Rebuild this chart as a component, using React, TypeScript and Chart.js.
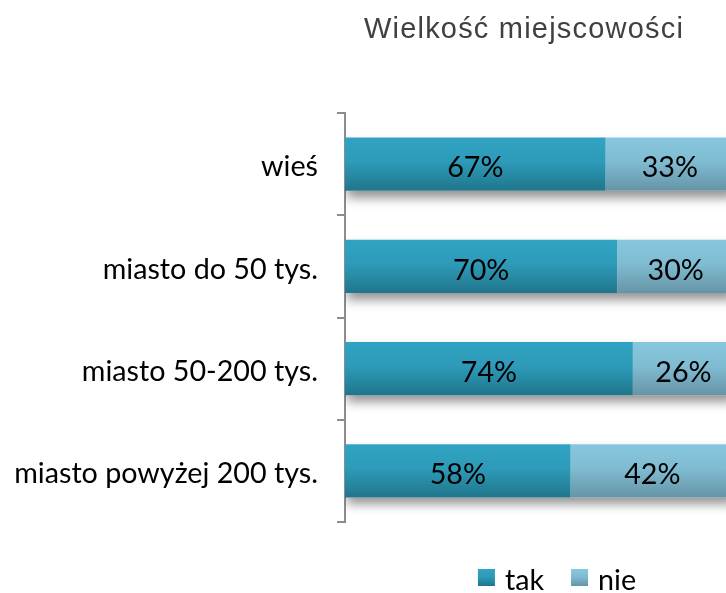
import React, { useEffect, useRef } from "react";
import { Chart, registerables } from "chart.js";

Chart.register(...registerables);

const categories = ["wieś", "miasto do 50 tys.", "miasto 50-200 tys.", "miasto powyżej 200 tys."];
const takValues = [67, 70, 74, 58];
const nieValues = [33, 30, 26, 42];
const seriesNames = ["tak", "nie"];
const chartTitle = "Wielkość miejscowości";

const LABEL_FONT = "Lato, 'Noto Sans', sans-serif";
const TITLE_FONT = "'Liberation Sans', Arial, sans-serif";
const LABEL_SIZE = 28.7;

const gradientStops: [number, string][][] = [
  [
    [0, "#31a3c2"],
    [0.45, "#2d9bb9"],
    [1, "#20768b"],
  ],
  [
    [0, "#87c7de"],
    [0.45, "#80bcd2"],
    [1, "#6694a6"],
  ],
];
const solidColors = ["#2a92ad", "#7ab3c8"];

function makeGradient(ctx: CanvasRenderingContext2D, top: number, bottom: number, idx: number) {
  const g = ctx.createLinearGradient(0, top, 0, bottom);
  gradientStops[idx].forEach(([o, c]) => g.addColorStop(o, c));
  return g;
}

const barStylePlugin = {
  id: "barStyle",
  beforeDatasetsDraw(chart: any) {
    const ctx = chart.ctx as CanvasRenderingContext2D;
    const metas = chart.data.datasets.map((_: any, i: number) => chart.getDatasetMeta(i));
    // per-bar vertical gradients
    metas.forEach((meta: any, di: number) => {
      meta.data.forEach((el: any) => {
        const { y, height } = el.getProps(["y", "height"], true);
        el.options = Object.assign({}, el.options, {
          backgroundColor: makeGradient(ctx, y - height / 2, y + height / 2, di),
        });
      });
    });
    // soft shadow under each full stacked bar
    const n = chart.data.labels.length;
    for (let i = 0; i < n; i++) {
      let left = Infinity;
      let right = -Infinity;
      let y = 0;
      let h = 0;
      metas.forEach((meta: any) => {
        const el = meta.data[i];
        const p = el.getProps(["x", "y", "base", "height"], true);
        left = Math.min(left, p.base, p.x);
        right = Math.max(right, p.base, p.x);
        y = p.y;
        h = p.height;
      });
      ctx.save();
      ctx.beginPath();
      ctx.rect(
        chart.chartArea.left,
        chart.chartArea.top,
        chart.chartArea.right - chart.chartArea.left,
        chart.chartArea.bottom - chart.chartArea.top + 40
      );
      ctx.clip();
      ctx.shadowColor = "rgba(0,0,0,0.42)";
      ctx.shadowBlur = 10;
      ctx.shadowOffsetY = 7;
      ctx.fillStyle = "#ffffff";
      ctx.fillRect(left + 2, y - h / 2, right - left - 2, h);
      ctx.restore();
    }
  },
  afterDatasetsDraw(chart: any) {
    const ctx = chart.ctx as CanvasRenderingContext2D;
    ctx.save();
    ctx.font = `${LABEL_SIZE}px ${LABEL_FONT}`;
    ctx.fillStyle = "#000000";
    ctx.textAlign = "center";
    ctx.textBaseline = "middle";
    chart.data.datasets.forEach((ds: any, di: number) => {
      const meta = chart.getDatasetMeta(di);
      meta.data.forEach((el: any, i: number) => {
        const p = el.getProps(["x", "y", "base"], true);
        ctx.fillText(`${ds.data[i]}%`, (p.x + p.base) / 2, p.y + 4);
      });
    });
    ctx.restore();
  },
  afterDraw(chart: any) {
    const ctx = chart.ctx as CanvasRenderingContext2D;
    const area = chart.chartArea;
    // title
    ctx.save();
    ctx.font = `29px ${TITLE_FONT}`;
    (ctx as any).letterSpacing = "1.2px";
    ctx.fillStyle = "#404040";
    ctx.textAlign = "center";
    ctx.textBaseline = "alphabetic";
    ctx.fillText(chartTitle, area.left + 179, 38);
    ctx.restore();
    // legend
    ctx.save();
    ctx.font = `${LABEL_SIZE}px ${LABEL_FONT}`;
    const box = 17;
    const gap = 10;
    const spacing = 27;
    const widths = seriesNames.map((s) => box + gap + ctx.measureText(s).width);
    const total = widths.reduce((a, b) => a + b, 0) + spacing * (seriesNames.length - 1);
    const cx = area.left + 212;
    const cy = 577.5;
    let x = cx - total / 2;
    seriesNames.forEach((s, i) => {
      ctx.fillStyle = makeGradient(ctx, cy - box / 2, cy + box / 2, i);
      ctx.fillRect(x, cy - box / 2, box, box);
      ctx.fillStyle = "#000000";
      ctx.textAlign = "left";
      ctx.textBaseline = "middle";
      ctx.fillText(s, x + box + gap, cy + 3);
      x += widths[i] + spacing;
    });
    ctx.restore();
  },
};

export default function App() {
  const ref = useRef<HTMLCanvasElement | null>(null);
  useEffect(() => {
    if (!ref.current) return;
    const chart = new Chart(ref.current, {
      type: "bar",
      data: {
        labels: categories,
        datasets: [
          {
            label: seriesNames[0],
            data: takValues,
            backgroundColor: () => solidColors[0],
            barPercentage: 0.52,
            categoryPercentage: 1,
          },
          {
            label: seriesNames[1],
            data: nieValues,
            backgroundColor: () => solidColors[1],
            barPercentage: 0.52,
            categoryPercentage: 1,
          },
        ],
      },
      options: {
        indexAxis: "y",
        responsive: false,
        animation: false,
        devicePixelRatio: 1,
        layout: { padding: { top: 113, bottom: 71, left: 0, right: 26 } },
        plugins: {
          legend: { display: false },
          title: { display: false },
          tooltip: { enabled: false },
        },
        scales: {
          x: { display: false, stacked: true, min: 0, max: 100 },
          y: {
            stacked: true,
            z: 1,
            afterFit: (scale: any) => {
              scale.width = 345;
            },
            border: { display: true, color: "#8c8c8c", width: 2 },
            grid: {
              display: true,
              offset: true,
              drawOnChartArea: false,
              drawTicks: true,
              tickLength: 8,
              color: "#8c8c8c",
              lineWidth: 2,
            },
            ticks: {
              color: "#000000",
              padding: 19,
              labelOffset: 3,
              font: { family: LABEL_FONT, size: LABEL_SIZE },
            },
          },
        },
      },
      plugins: [barStylePlugin],
    });
    return () => chart.destroy();
  }, []);
  return (
    <div
      style={{
        position: "fixed",
        left: 0,
        top: 0,
        width: 726,
        height: 593,
        overflow: "hidden",
        background: "#ffffff",
      }}
    >
      <canvas ref={ref} width={760} height={593} style={{ display: "block" }} />
    </div>
  );
}
